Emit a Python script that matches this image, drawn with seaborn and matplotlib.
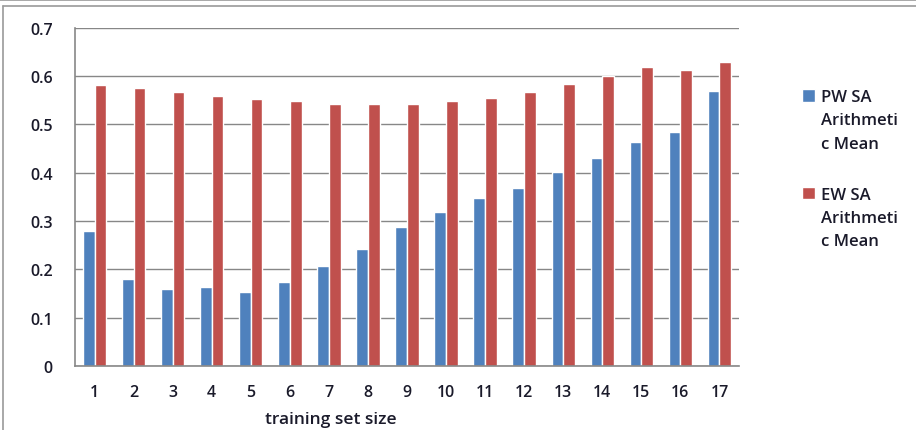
import matplotlib
matplotlib.use("Agg")
import matplotlib.pyplot as plt
from matplotlib.lines import Line2D
from matplotlib.ticker import MultipleLocator
import seaborn as sns
import pandas as pd
import numpy as np

# data
sizes = [str(i) for i in range(1, 18)]
pw_mean = [0.280, 0.180, 0.160, 0.163, 0.154, 0.174, 0.207, 0.243, 0.287, 0.318,
           0.348, 0.369, 0.401, 0.431, 0.463, 0.484, 0.569]
ew_mean = [0.581, 0.575, 0.566, 0.558, 0.552, 0.549, 0.543, 0.543, 0.543, 0.549,
           0.554, 0.566, 0.584, 0.601, 0.619, 0.613, 0.628]
series_names = ["PW SA\nArithmeti\nc Mean", "EW SA\nArithmeti\nc Mean"]

df = pd.DataFrame({
    "size": sizes * 2,
    "value": pw_mean + ew_mean,
    "series": [series_names[0]] * len(sizes) + [series_names[1]] * len(sizes),
})

sns.set_style("white")
plt.rcParams["font.family"] = ["Open Sans", "DejaVu Sans"]

grid_col = "#878787"
txt_col = "#1a1a2a"
fig = plt.figure(figsize=(9.16, 4.31), dpi=100)
ax = fig.add_axes([75 / 916, 1 - 367 / 431, (739 - 75) / 916, (367 - 28.7) / 431])

sns.barplot(data=df, x="size", y="value", hue="series",
            palette=["#4F81BD", "#C0504D"], saturation=1, width=0.6,
            order=sizes, ax=ax)

ax.set_ylim(0, 0.7)
ax.set_xlim(-0.5, len(sizes) - 0.5)
ax.yaxis.set_major_locator(MultipleLocator(0.1))
ax.set_yticklabels(["0" if v == 0 else f"{v:.1f}" for v in ax.get_yticks()])
ax.grid(axis="y", color=grid_col, linewidth=1)
ax.set_axisbelow(True)

for s in ["top", "right"]:
    ax.spines[s].set_visible(False)
for s in ["left", "bottom"]:
    ax.spines[s].set_color(grid_col)
    ax.spines[s].set_linewidth(1.2)

ax.set_xticks(np.arange(-0.5, len(sizes), 1.0), minor=True)
ax.tick_params(axis="x", which="major", length=0, pad=13, labelsize=11.5, labelcolor=txt_col)
ax.tick_params(axis="x", which="minor", length=6, color=grid_col, width=1.2, direction="out")
ax.tick_params(axis="y", length=7, color=grid_col, width=1.2, direction="out",
               labelsize=11.5, labelcolor=txt_col, pad=9)
for lab in ax.get_xticklabels() + ax.get_yticklabels():
    lab.set_fontweight("semibold")

ax.set_xlabel("training set size", fontsize=12.5, color=txt_col, fontweight="semibold")
ax.xaxis.set_label_coords((331 - 75) / 664, -(420 - 367) / 338.3)
ax.xaxis.label.set_va("center")
ax.set_ylabel("")

leg = ax.legend(loc="upper left", bbox_to_anchor=(1.082, 0.843), frameon=False,
                prop={"size": 12, "weight": "semibold"}, handlelength=0.8, handleheight=0.8,
                handletextpad=0.35, labelspacing=2.1, borderpad=0)
for t in leg.get_texts():
    t.set_linespacing(1.6)
    t.set_color(txt_col)
# put the square beside the first line of each label
for col in leg._legend_handle_box.get_children():
    for row in col.get_children():
        row.align = "top"

# outer frame lines of the original chart area
fig.add_artist(Line2D([0, 1], [1 - 1 / 431, 1 - 1 / 431], color="#9a9a9a", lw=1.2, transform=fig.transFigure))
fig.add_artist(Line2D([3 / 916, 1], [1 - 7 / 431, 1 - 7 / 431], color="#9a9a9a", lw=1.2, transform=fig.transFigure))
fig.add_artist(Line2D([3 / 916, 3 / 916], [0, 1 - 7 / 431], color="#9a9a9a", lw=1.2, transform=fig.transFigure))

fig.savefig("out.png", dpi=100)
